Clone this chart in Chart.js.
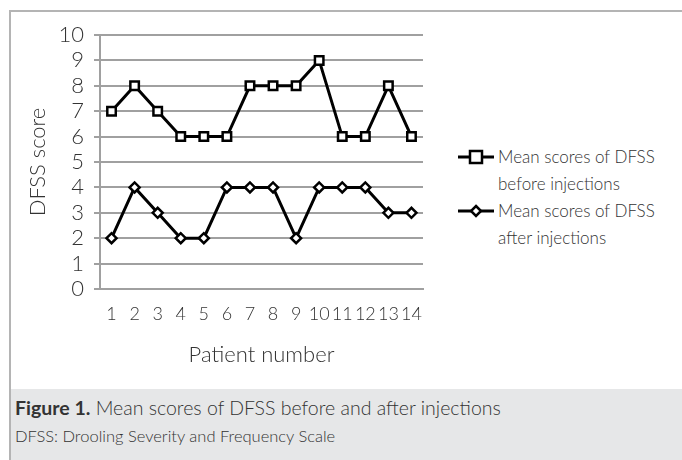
<!DOCTYPE html>
<html>
<head>
<meta charset="utf-8">
<script src="https://cdn.jsdelivr.net/npm/chart.js@4/dist/chart.umd.min.js"></script>
<style>
  body { margin: 0; background: #fff; font-family: Lato, "Open Sans", sans-serif; }
  #page { position: relative; width: 682px; height: 460px; overflow: hidden; }
  #frame { position: absolute; left: 9px; top: 10px; width: 700px; height: 470px; border-left: 2px solid #b4b4b4; border-top: 2px solid #b4b4b4; }
  #chartBox { position: absolute; left: 0; top: 0; width: 440px; height: 389px; }
  #legend { position: absolute; left: 458px; top: 143px; font-size: 17px; font-weight: 300; color: #333; line-height: 27px; }
  .item { display: flex; align-items: flex-start; }
  .item svg { margin-top: 4px; margin-right: 4px; }
  #caption { position: absolute; left: 11px; top: 389px; width: 680px; height: 80px; background: #e6e7e8; color: #333; }
  #caption .t1 { position: absolute; left: 4px; top: 7px; font-size: 19.5px; font-weight: 300; white-space: nowrap; }
  #caption .t1 b { font-weight: 700; }
  #caption .t2 { position: absolute; left: 4px; top: 37px; font-size: 16.5px; font-weight: 300; white-space: nowrap; }
</style>
</head>
<body>
<div id="page">
  <div id="frame"></div>
  <div id="chartBox"><canvas id="chart1"></canvas></div>
  <div id="legend">
    <div class="item">
      <svg width="36" height="20"><line x1="0" y1="10" x2="36" y2="10" stroke="#000" stroke-width="3"/><rect x="12" y="4" width="12" height="12" fill="#fff" stroke="#000" stroke-width="2.5"/></svg>
      <div>Mean scores of DFSS<br>before injections</div>
    </div>
    <div class="item">
      <svg width="36" height="20"><line x1="0" y1="10" x2="36" y2="10" stroke="#000" stroke-width="3"/><polygon points="18,5 23,10 18,15 13,10" fill="#fff" stroke="#000" stroke-width="2.5"/></svg>
      <div>Mean scores of DFSS<br>after injections</div>
    </div>
  </div>
  <div id="caption">
    <div class="t1"><b>Figure 1.</b> Mean scores of DFSS before and after injections</div>
    <div class="t2">DFSS: Drooling Severity and Frequency Scale</div>
  </div>
</div>
<script>
const patients = ['1', '2', '3', '4', '5', '6', '7', '8', '9', '10', '11', '12', '13', '14']
const beforeScores = [7, 8, 7, 6, 6, 6, 8, 8, 8, 9, 6, 6, 8, 6]
const afterScores = [2, 4, 3, 2, 2, 4, 4, 4, 2, 4, 4, 4, 3, 3]
const yTicks = [0, 1, 2, 3, 4, 5, 6, 7, 8, 9, 10]

const fontFamily = 'Lato, "Open Sans", sans-serif'
const bigFont = { family: fontFamily, size: 22, weight: 300 }

const chart1 = new Chart(document.getElementById('chart1'), {
    type: 'line',
    data: {
        labels: patients,
        datasets: [
            {
                label: 'Mean scores of DFSS before injections',
                data: beforeScores,
                borderColor: '#000',
                borderWidth: 3,
                pointStyle: 'rect',
                pointRadius: 6,
                pointBorderWidth: 2.5,
                pointBackgroundColor: '#fff',
                pointBorderColor: '#000',
                tension: 0
            },
            {
                label: 'Mean scores of DFSS after injections',
                data: afterScores,
                borderColor: '#000',
                borderWidth: 3,
                pointStyle: 'rectRot',
                pointRadius: 5,
                pointBorderWidth: 2.5,
                pointBackgroundColor: '#fff',
                pointBorderColor: '#000',
                tension: 0
            }
        ]
    },
    options: {
        responsive: true,
        maintainAspectRatio: false,
        animation: false,
        layout: { padding: { left: 0, top: 35, right: 17, bottom: 0 } },
        plugins: {
            legend: { display: false },
            tooltip: { enabled: false }
        },
        scales: {
            x: {
                offset: true,
                grid: { display: false, drawTicks: false },
                border: { color: '#a0a0a0', width: 2 },
                ticks: { color: '#333', font: { family: fontFamily, size: 18, weight: 300 }, padding: 14, maxRotation: 0, autoSkip: false },
                title: { display: true, text: 'Patient number', color: '#333', font: bigFont, padding: { bottom: 21 } },
                afterFit: s => { s.height = 100 }
            },
            y: {
                min: 0,
                max: 10,
                afterBuildTicks: s => { s.ticks = yTicks.map(v => ({ value: v })) },
                grid: { color: '#a0a0a0', lineWidth: 2, tickLength: 6 },
                border: { color: '#a0a0a0', width: 2 },
                ticks: { color: '#333', font: bigFont, padding: 10, autoSkip: false },
                title: { display: true, text: 'DFSS score', color: '#333', font: bigFont, padding: { top: 25 } },
                afterFit: s => { s.width = 100 }
            }
        }
    }
})
</script>
</body>
</html>
